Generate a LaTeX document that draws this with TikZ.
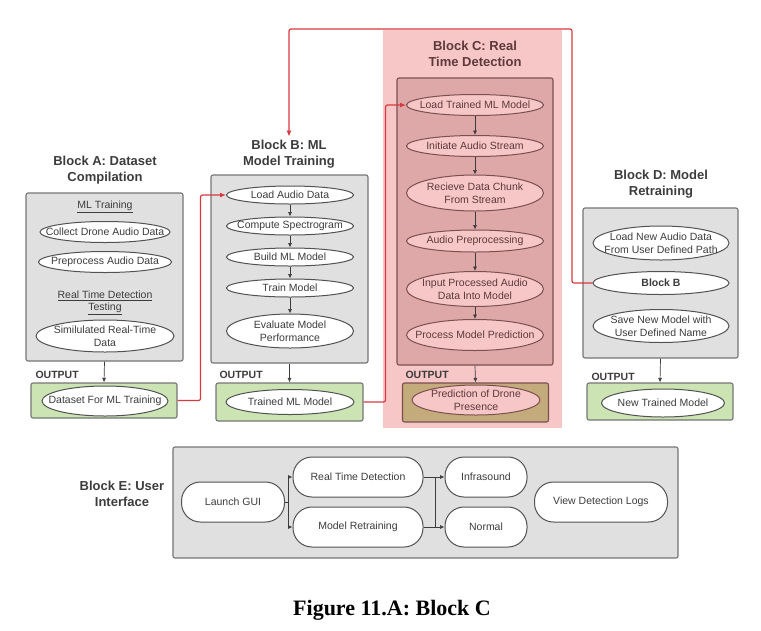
\documentclass[tikz,border=0pt]{standalone}
\usepackage{fontspec}
\setmainfont{Liberation Sans}
\newfontfamily\capfont{Liberation Serif}
\usetikzlibrary{positioning,shapes.geometric,arrows.meta}

\definecolor{framegray}{HTML}{E0E0E0}
\definecolor{edgegray}{HTML}{757575}
\definecolor{textgray}{HTML}{3C3C3C}
\definecolor{outgreen}{HTML}{CCE4B4}
\definecolor{pinkbg}{HTML}{F7C6C7}
\definecolor{pinkframe}{HTML}{DEA7A8}
\definecolor{pinkedge}{HTML}{7A5050}
\definecolor{pinktext}{HTML}{5C3A3A}
\definecolor{khaki}{HTML}{C4AB7B}
\definecolor{redline}{HTML}{D6393F}

\tikzset{
  blk/.style={draw=edgegray, fill=framegray, line width=1.1pt, rounded corners=2pt, inner sep=0pt},
  outbox/.style={blk, fill=outgreen},
  proc/.style={ellipse, draw=edgegray!70!black, fill=white, line width=1pt,
    inner xsep=-20pt, inner ysep=-4pt, minimum width=128pt, minimum height=20pt,
    align=center, text=textgray},
  cproc/.style={proc, fill=pinkbg, draw=pinkedge, text=pinktext},
  pill/.style={rectangle, rounded corners=19pt, draw=edgegray!70!black, fill=white,
    line width=1pt, minimum height=40pt, align=center, text=textgray,
    font=\fontsize{10.5}{12}\selectfont},
  blocktitle/.style={font=\bfseries\fontsize{13}{15.5}\selectfont, text=textgray, align=center},
  outlbl/.style={anchor=west, font=\bfseries\fontsize{10.5}{12}\selectfont, text=textgray},
  subhead/.style={align=center, text=textgray},
  flow/.style={draw=textgray, line width=0.7pt, -{Latex[length=4.5pt,width=4pt]}},
  redflow/.style={draw=redline, line width=1.2pt, rounded corners=2pt, -{Latex[length=6pt,width=5pt]}},
}

\begin{document}
\begin{tikzpicture}[x=1pt, y=-1pt, node distance=31pt, on grid, font=\fontsize{10.5}{12.5}\selectfont]
\useasboundingbox (0,0) rectangle (761,630);

% Block C background
\fill[pinkbg] (383,30) rectangle (562,428);

% Block A
\node[blocktitle] (titleA) at (105,170) {Block A: Dataset\\Compilation};
\node[blk, minimum width=157pt, minimum height=168pt] (frameA) at (104.5,277) {};
\node[subhead] (mlhead) at (105,207) {\underline{ML Training}};
\node[proc, minimum width=130pt, minimum height=21pt] (collect) at (105,232) {Collect Drone Audio Data};
\node[proc, minimum width=133pt, minimum height=21pt] (prepA) at (105,262) {Preprocess Audio Data};
\node[subhead] (rthead) at (105,303) {\underline{Real Time Detection}\\\underline{Testing}};
\node[proc, minimum width=138pt, minimum height=32pt] (simul) at (105,336) {Similulated Real-Time\\Data};
\node[outlbl] (olA) at (32,375) {OUTPUT};
\node[outbox, minimum width=146pt, minimum height=35pt] (outA) at (104,400.5) {};
\node[proc, minimum width=126pt, minimum height=30pt] (dataset) at (105,401) {Dataset For ML Training};
\draw[flow] (frameA.south) -- (outA.north);

% Block B
\node[blocktitle] (titleB) at (289,154) {Block B: ML\\Model Training};
\node[blk, minimum width=157pt, minimum height=188pt] (frameB) at (289.5,269) {};
\node[proc, minimum width=127pt, minimum height=18pt] (load) at (290,195) {Load Audio Data};
\node[proc, minimum width=127pt, minimum height=18pt] (spec) [below=of load] {Compute Spectrogram};
\node[proc, minimum width=127pt, minimum height=18pt] (build) [below=of spec] {Build ML Model};
\node[proc, minimum width=127pt, minimum height=18pt] (train) [below=of build] {Train Model};
\node[proc, minimum width=127pt, minimum height=34pt] (eval) [below=43pt of train] {Evaluate Model\\Performance};
\draw[flow] (load) -- (spec);
\draw[flow] (spec) -- (build);
\draw[flow] (build) -- (train);
\draw[flow] (train) -- (eval);
\node[outlbl] (olB) at (216,375) {OUTPUT};
\node[outbox, minimum width=147pt, minimum height=38pt] (outB) at (289.5,402) {};
\node[proc, minimum width=128pt, minimum height=25pt] (trained) at (290,402) {Trained ML Model};
\draw[flow] (frameB.south) -- (outB.north);

% Block C
\node[blocktitle, text=pinktext] (titleC) at (475,54) {Block C: Real\\Time Detection};
\node[blk, fill=pinkframe, draw=pinkedge, minimum width=156pt, minimum height=287pt] (frameC) at (475,221.5) {};
\node[cproc, minimum width=137pt, minimum height=21pt] (loadml) at (475,105) {Load Trained ML Model};
\node[cproc, minimum width=137pt, minimum height=21pt] (stream) [below=41pt of loadml] {Initiate Audio Stream};
\node[cproc, minimum width=137pt, minimum height=36pt] (chunk) [below=47pt of stream] {Recieve Data Chunk\\From Stream};
\node[cproc, minimum width=137pt, minimum height=22pt] (prepC) [below=48pt of chunk] {Audio Preprocessing};
\node[cproc, minimum width=137pt, minimum height=35pt] (input) [below=48pt of prepC] {Input Processed Audio\\Data Into Model};
\node[cproc, minimum width=137pt, minimum height=31pt] (predict) [below=46pt of input] {Process Model Prediction};
\draw[flow] (loadml) -- (stream);
\draw[flow] (stream) -- (chunk);
\draw[flow] (chunk) -- (prepC);
\draw[flow] (prepC) -- (input);
\draw[flow] (input) -- (predict);
\node[outlbl] (olC) at (402,375) {OUTPUT};
\node[blk, fill=khaki, draw=pinkedge, minimum width=146pt, minimum height=39pt] (outC) at (475.5,402.5) {};
\node[cproc, minimum width=128pt, minimum height=30pt] (presence) at (476,400) {Prediction of Drone\\Presence};
\draw[flow] (frameC.south) -- (outC.north);

% Block D
\node[blocktitle] (titleD) at (661,184) {Block D: Model\\Retraining};
\node[blk, minimum width=155pt, minimum height=150pt] (frameD) at (660.5,283) {};
\node[proc, minimum width=136pt, minimum height=34pt] (loadnew) at (661,243) {Load New Audio Data\\From User Defined Path};
\node[proc, minimum width=136pt, minimum height=23pt, font=\bfseries\fontsize{10.5}{12}\selectfont] (blockb) at (661,283) {Block B};
\node[proc, minimum width=136pt, minimum height=33pt] (savenew) at (661,326) {Save New Model with\\User Defined Name};
\node[outlbl] (olD) at (588,377) {OUTPUT};
\node[outbox, minimum width=146pt, minimum height=37pt] (outD) at (660,401.5) {};
\node[proc, minimum width=123pt, minimum height=28pt] (newmodel) at (663,403) {New Trained Model};
\draw[flow] (frameD.south) -- (outD.north);

% red links between blocks
\coordinate (topR) at (572,29);
\coordinate (topL) at (289,29);
\draw[redflow] (outA.east) -- ++(23,0) |- (load.west);
\draw[redflow] (outB.east) -- ++(22,0) |- (loadml.west);
\draw[redflow] (blockb.west) -| (topR) -- (topL) -- (titleB.north);

% Block E
\node[blocktitle] (titleE) at (122,494) {Block E: User\\Interface};
\node[blk, minimum width=505pt, minimum height=111pt] (frameE) at (425.5,502.5) {};
\node[pill, minimum width=103pt] (gui) at (233,502) {Launch GUI};
\node[pill, minimum width=130pt] (rtd) at (358,477) {Real Time Detection};
\node[pill, minimum width=130pt] (retrain) at (358,527) {Model Retraining};
\node[pill, minimum width=82pt] (infra) at (486,477) {Infrasound};
\node[pill, minimum width=82pt] (normal) at (486,527) {Normal};
\node[pill, minimum width=133pt] (logs) at (601,502) {View Detection Logs};
\draw[flow] (gui.east) -- ++(3,0) |- (rtd.west);
\draw[flow] (gui.east) -- ++(3,0) |- (retrain.west);
\draw[flow] (rtd) -- (infra);
\draw[flow] (retrain) -- (normal);
\coordinate (j1) at (435,477);
\coordinate (j2) at (435,527);
\draw[draw=textgray, line width=0.7pt] (j1) -- (j2);

\node[font=\capfont\bfseries\fontsize{22}{26}\selectfont] (caption) at (392,610) {Figure 11.A: Block C};
\end{tikzpicture}
\end{document}
